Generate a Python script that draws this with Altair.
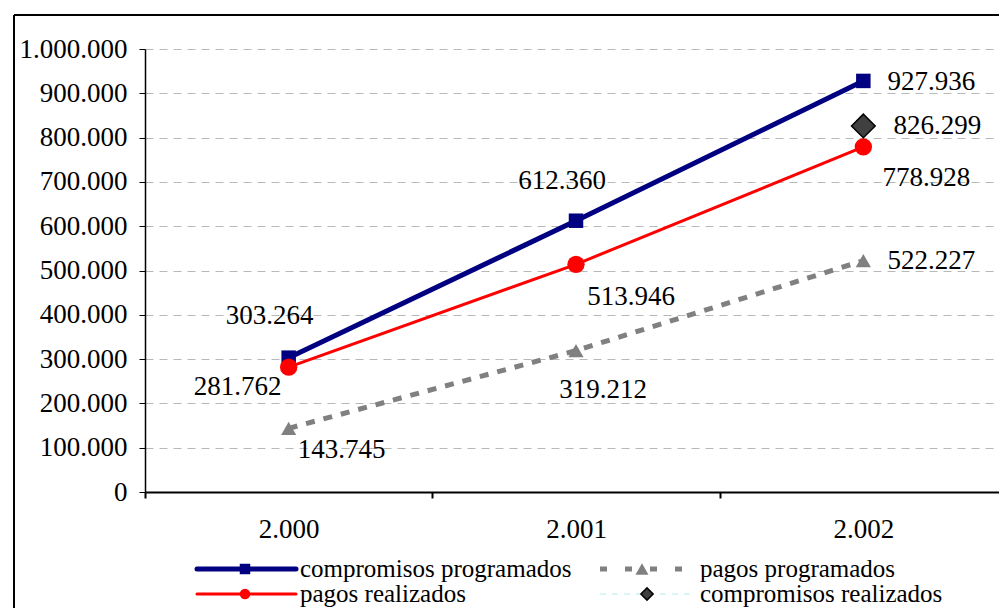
import altair as alt
import pandas as pd

# ---------------- data ----------------
years = ["2.000", "2.001", "2.002"]
compromisos_programados = [303264, 612360, 927936]
pagos_realizados = [281762, 513946, 778928]
pagos_programados = [143745, 319212, 522227]
compromisos_realizados_years = ["2.002"]
compromisos_realizados = [826299]
y_ticks = [0, 100000, 200000, 300000, 400000, 500000, 600000, 700000, 800000, 900000, 1000000]

# label offsets (layout only)
offsets_cp = [(-19, -42), (-14, -40), (68, 1)]
offsets_pr = [(-51, 20), (55, 33), (63, 31)]
offsets_pp = [(53, 22), (27, 39), (68, 0)]
offsets_cr = [(74, 0)]

FONT = "Liberation Serif"
FS = 27


def fmt(v):
    return f"{v:,}".replace(",", ".")


def frame(yrs, vals):
    return pd.DataFrame({"year": yrs, "value": vals, "label": [fmt(v) for v in vals]})


df_cp = frame(years, compromisos_programados)
df_pr = frame(years, pagos_realizados)
df_pp = frame(years, pagos_programados)
df_cr = frame(compromisos_realizados_years, compromisos_realizados)

x_enc = alt.X(
    "year:N",
    scale=alt.Scale(type="band", domain=years, paddingInner=0, paddingOuter=0),
    axis=alt.Axis(
        title=None, tickBand="extent", grid=False, domainColor="black", domainWidth=2,
        tickColor="black", tickWidth=2, tickSize=6, labelFont=FONT, labelFontSize=FS,
        labelColor="black", labelPadding=18, labelAngle=0,
    ),
)
y_enc = alt.Y(
    "value:Q",
    scale=alt.Scale(domain=[0, 1000000], nice=False, zero=True),
    axis=alt.Axis(
        title=None, values=y_ticks,
        labelExpr="join(split(format(datum.value, ','), ','), '.')",
        grid=True, gridColor="#b8b8b8", gridDash=[8, 6], gridWidth=1,
        domainColor="black", domainWidth=1.5, tickColor="black", tickSize=6, tickWidth=1,
        labelFont=FONT, labelFontSize=FS, labelColor="black", labelPadding=12,
    ),
)

dummy = pd.DataFrame({"d": [0]})
layers = []

# outer frame (decoration)
layers.append(alt.Chart(dummy).mark_rule(color="black", strokeWidth=2).encode(
    x=alt.value(-131), y=alt.value(-34), y2=alt.value(700)))
layers.append(alt.Chart(dummy).mark_rule(color="black", strokeWidth=2).encode(
    x=alt.value(-131), x2=alt.value(900), y=alt.value(-34)))

# lines
layers.append(alt.Chart(df_pp).mark_line(color="#808080", strokeWidth=5, strokeDash=[9, 9]).encode(x=x_enc, y=y_enc))
layers.append(alt.Chart(df_cp).mark_line(color="#000080", strokeWidth=5).encode(x=x_enc, y=y_enc))
layers.append(alt.Chart(df_pr).mark_line(color="#ff0000", strokeWidth=3).encode(x=x_enc, y=y_enc))

# points
layers.append(alt.Chart(df_pp).mark_point(shape="triangle-up", filled=True, color="#808080", size=230, opacity=1).encode(x=x_enc, y=y_enc))
layers.append(alt.Chart(df_cp).mark_point(shape="square", filled=True, color="#000080", size=210, opacity=1).encode(x=x_enc, y=y_enc))
layers.append(alt.Chart(df_pr).mark_point(shape="circle", filled=True, color="#ff0000", size=300, opacity=1).encode(x=x_enc, y=y_enc))
layers.append(alt.Chart(df_cr).mark_point(shape="diamond", filled=True, fill="#404040", stroke="black", strokeWidth=1.5, size=560, opacity=1).encode(x=x_enc, y=y_enc))

# value labels
for df, offs in [(df_cp, offsets_cp), (df_pr, offsets_pr), (df_pp, offsets_pp), (df_cr, offsets_cr)]:
    for i, (dx, dy) in enumerate(offs):
        layers.append(
            alt.Chart(df.iloc[[i]]).mark_text(
                font=FONT, fontSize=FS, color="black", dx=dx, dy=dy, align="center", baseline="middle"
            ).encode(x=x_enc, y=y_enc, text="label:N")
        )

# legend (layout)
LEG_FS = 25
legend_items = [
    # label, line x1, x2, y, color, width, dash, marker x, shape, size, fill, stroke, text x
    ("compromisos programados", 52, 151, 520, "#000080", 5, None, 100, "square", 110, "#000080", None, 155),
    ("pagos realizados", 52, 151, 545, "#ff0000", 3, None, 100, "circle", 110, "#ff0000", None, 155),
    ("pagos programados", 455, 545, 520, "#808080", 5, [7, 18], 497, "triangle-up", 170, "#808080", None, 555),
    ("compromisos realizados", 455, 545, 545, "#aeeeee", 1, [6, 6], 502, "diamond", 150, "#404040", "black", 555),
]
for (lab, x1, x2, yy, col, w, dash, mx, shp, sz, fill, stroke, tx) in legend_items:
    rule_kwargs = dict(color=col, strokeWidth=w, strokeCap="round" if dash is None else "butt")
    if dash is not None:
        rule_kwargs["strokeDash"] = dash
    layers.append(alt.Chart(dummy).mark_rule(**rule_kwargs).encode(
        x=alt.value(x1), x2=alt.value(x2), y=alt.value(yy)))
    pk = dict(shape=shp, filled=True, fill=fill, size=sz, opacity=1)
    if stroke is not None:
        pk["stroke"] = stroke
        pk["strokeWidth"] = 1.5
    layers.append(alt.Chart(dummy).mark_point(**pk).encode(x=alt.value(mx), y=alt.value(yy)))
    layers.append(alt.Chart(dummy).mark_text(font=FONT, fontSize=LEG_FS, color="black", align="left", baseline="middle").encode(
        x=alt.value(tx), y=alt.value(yy), text=alt.value(lab)))

chart = alt.layer(*layers).properties(
    width=862, height=443,
    autosize=alt.AutoSizeParams(type="none"),
    padding={"left": 137, "top": 41, "right": -8, "bottom": 116},
    background="white",
).configure_view(stroke=None)

chart.save("out.html", embed_options={"renderer": "svg", "actions": False})
